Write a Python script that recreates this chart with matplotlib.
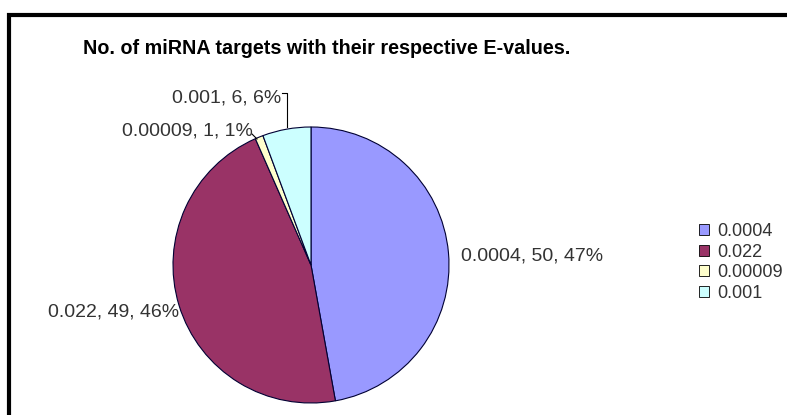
import matplotlib
matplotlib.use("Agg")
import matplotlib.pyplot as plt
from matplotlib.patches import Rectangle, Patch

categories = ["0.0004", "0.022", "0.00009", "0.001"]
counts = [50, 49, 1, 6]
percents = [47, 46, 1, 6]
colors = ["#9999FF", "#993366", "#FFFFCC", "#CCFFFF"]
title = "No. of miRNA targets with their respective E-values."

W, H = 787, 415
fig = plt.figure(figsize=(W / 100, H / 100), dpi=100)
plt.rcParams['font.family'] = ['Liberation Sans', 'DejaVu Sans']

ax = fig.add_axes([0, 0, 1, 1])
ax.set_xlim(0, W)
ax.set_ylim(0, H)
ax.axis("off")

# outer frame
ax.add_patch(Rectangle((9, -10), W + 20, H - 15 + 10, fill=False, edgecolor="black", lw=3))

cx, cy, r = 311, H - 265, 138
wedges, _ = ax.pie(counts, colors=colors, startangle=90, counterclock=False,
                   center=(cx, cy), radius=r, frame=True,
                   wedgeprops=dict(edgecolor="#000033", linewidth=0.8))
ax.set_xlim(0, W)
ax.set_ylim(0, H)
ax.set_aspect("equal")
ax.axis("off")

labels = [f"{c}, {n}, {p}%" for c, n, p in zip(categories, counts, percents)]
fs = 14
ax.text(461, H - 256, labels[0], fontsize=fs, color="#333333", ha="left", va="center")
ax.text(48, H - 312, labels[1], fontsize=fs, color="#333333", ha="left", va="center")
ax.text(122, H - 131, labels[2], fontsize=fs, color="#333333", ha="left", va="center")
ax.text(172, H - 98, labels[3], fontsize=fs, color="#333333", ha="left", va="center")

# leader lines
ax.plot([282, 287, 287], [H - 93, H - 93, H - 127], color="black", lw=0.8)
ax.plot([252, 257], [H - 134, H - 139], color="black", lw=0.8)

ax.text(83, H - 48, title, fontsize=14.2, fontweight="bold", ha="left", va="center")

handles = [Patch(facecolor=c, edgecolor="black", linewidth=0.6) for c in colors]
leg = ax.legend(handles, categories, loc="upper left", bbox_to_anchor=(699 / W, 1 - 223 / H),
                frameon=False, fontsize=13, handlelength=0.55, handleheight=0.55,
                handletextpad=0.45, labelspacing=0.2, borderaxespad=0, borderpad=0)
for t in leg.get_texts():
    t.set_color("#333333")

fig.savefig("out.png", dpi=100)
